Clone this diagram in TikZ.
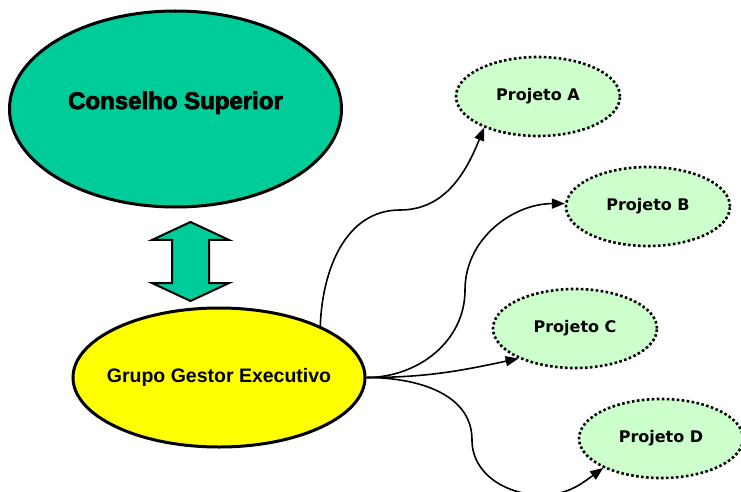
\documentclass[tikz,border=0pt]{standalone}
\usepackage{fontspec}
\setmainfont{Liberation Sans}
\newfontfamily\heavyfont{Liberation Sans Bold}[FakeBold=3]
\newfontfamily\projfont{DejaVu Sans Bold}
\usetikzlibrary{shapes.geometric,shapes.arrows,arrows.meta}
\definecolor{verdeagua}{HTML}{00CC99}
\definecolor{amarelo}{HTML}{FFFF00}
\definecolor{verdeclaro}{HTML}{CCFFCC}
\begin{document}
\begin{tikzpicture}[x=1pt,y=1pt,
    orgao/.style={ellipse,draw,line width=3pt,inner sep=0pt},
    projeto/.style={ellipse,draw,line width=2.6pt,dash pattern=on 2.6pt off 2.4pt,
      fill=verdeclaro,minimum width=164pt,minimum height=79pt,inner sep=0pt,
      font=\projfont\fontsize{16}{19}\selectfont}]
  \useasboundingbox (0,0) rectangle (741,-492);
  \draw
    (175.5,-109) node[orgao,fill=verdeagua,minimum width=332pt,minimum height=196pt,
      font=\heavyfont\fontsize{24}{28}\selectfont] (cs){\smash{Conselho Superior}}
    (219,-377.5) node[orgao,fill=amarelo,minimum width=292pt,minimum height=139pt,
      font=\bfseries\fontsize{19.5}{23}\selectfont] (gge){\makebox[0pt]{Grupo Gestor Executivo}}
    (190.5,-261.5) node[double arrow,draw,line width=2pt,fill=verdeagua,rotate=90,
      minimum height=79pt,inner xsep=0pt,inner ysep=17.5pt,
      double arrow head extend=20pt,double arrow tip angle=130] (elo){}
    (538,-96.5) node[projeto] (pa){Projeto A}
    (648,-206.5) node[projeto] (pb){Projeto B}
    (575,-328.5) node[projeto] (pc){Projeto C}
    (661,-438.5) node[projeto] (pd){Projeto D};
  \begin{scope}[-{Triangle[length=13pt,width=10pt]},line width=1.6pt]
    \draw (gge.27) to[out=88,in=180] (400,-210) to[out=0,in=248] (pa.210);
    \draw (gge.east) to[out=0,in=270] (465,-290) to[out=90,in=180] (pb.178);
    \draw (gge.east) to[out=0,in=192] (pc.208);
    \draw (gge.east) to[out=0,in=90] (472,-440) to[out=270,in=180] (542,-495)
      to[out=0,in=216] (pd.207);
  \end{scope}
\end{tikzpicture}
\end{document}
